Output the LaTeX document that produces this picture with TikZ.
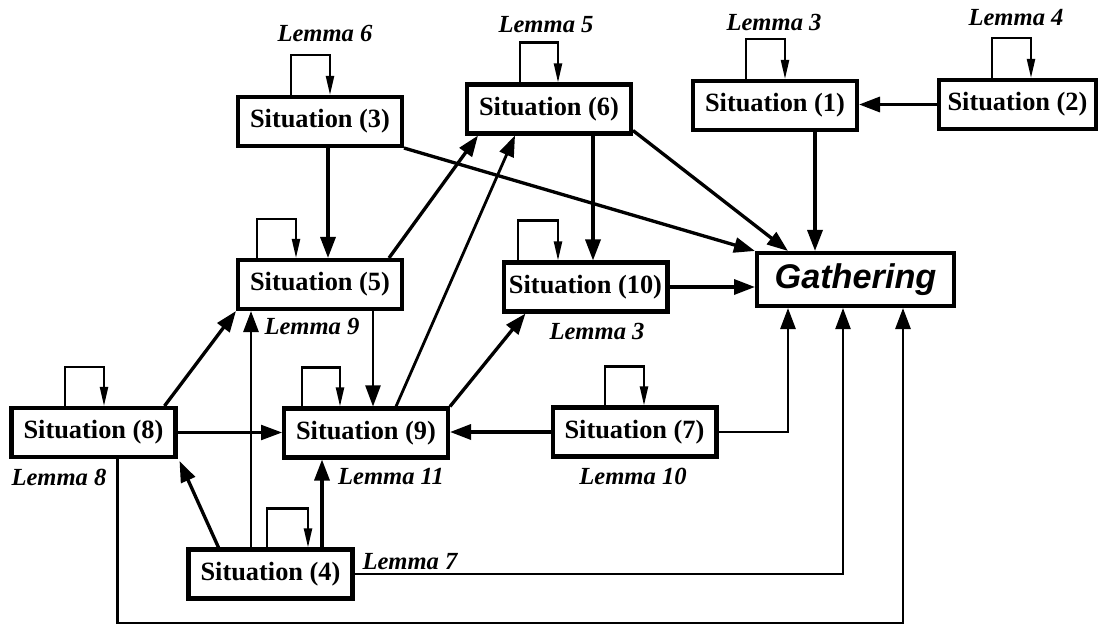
\documentclass[tikz,border=0pt]{standalone}
\usepackage{fontspec}
\setmainfont{Liberation Serif}
\newfontfamily\gathfont{Liberation Sans}
\usetikzlibrary{arrows.meta,calc}
\newcommand\selfloop[4]{%
  \draw[loopline] ($(#1.north)+(#2,0)$) -- ++(0,-#4) -| ($(#1.north)+(#3,0)$);}
\begin{document}
\begin{tikzpicture}[x=0.02cm,y=-0.02cm,
  sit/.style={draw,line width=2.3pt,minimum width=3.28cm,minimum height=0.98cm,
    inner sep=0pt,font=\fontsize{15}{17}\selectfont\bfseries},
  gathbox/.style={sit,minimum width=3.94cm,minimum height=1.06cm,
    font=\gathfont\fontsize{19.5}{22}\selectfont\bfseries\itshape},
  lem/.style={inner sep=0pt,font=\fontsize{14}{16}\selectfont\bfseries\itshape},
  edge/.style={line width=1.9pt,-{Triangle[length=0.42cm,width=0.3cm]}},
  medge/.style={edge,line width=1.6pt},
  tedge/.style={edge,line width=1.3pt},
  loopline/.style={line width=1.2pt,-{Triangle[length=0.38cm,width=0.16cm]}}]
\useasboundingbox (0,0) rectangle (1099,625);

% boxes
\node[sit] (s3) at (320,121.5) {Situation (3)};
\node[sit] (s6) at (549,109) {Situation (6)};
\node[sit] (s1) at (775,105.5) {Situation (1)};
\node[sit,minimum width=3.14cm] (s2) at (1017.5,104.5) {Situation (2)};
\node[sit] (s5) at (320,284.5) {Situation (5)};
\node[sit] (s10) at (585.5,287) {Situation (10)};
\node[gathbox] (gath) at (855.5,279.5) {Gathering};
\node[sit] (s8) at (93.5,432.5) {Situation (8)};
\node[sit] (s9) at (366,433) {Situation (9)};
\node[sit] (s7) at (634.5,432) {Situation (7)};
\node[sit] (s4) at (270.5,574) {Situation (4)};

% lemma labels
\node[lem] (l6) at (325,33) {Lemma 6};
\node[lem] (l5) at (546,25) {Lemma 5};
\node[lem] (l3a) at (774,22) {Lemma 3};
\node[lem] (l4) at (1016,18) {Lemma 4};
\node[lem] (l9) at (312,326) {Lemma 9};
\node[lem] (l3b) at (597,331) {Lemma 3};
\node[lem] (l8) at (59,477) {Lemma 8};
\node[lem] (l11) at (391,477) {Lemma 11};
\node[lem] (l10) at (633,476) {Lemma 10};
\node[lem] (l7) at (410,562) {Lemma 7};

% self loops
\selfloop{s3}{-29}{10}{40}
\selfloop{s6}{-29}{9}{40}
\selfloop{s1}{-29}{10}{40}
\selfloop{s2}{-25.5}{13.5}{40}
\selfloop{s5}{-63}{-24}{39}
\selfloop{s10}{-67.5}{-27.5}{40}
\selfloop{s8}{-28.5}{10.5}{39}
\selfloop{s9}{-64}{-26}{39}
\selfloop{s7}{-29.5}{9.5}{39}
\selfloop{s4}{-3.5}{37.5}{39}

% edges
\draw[edge] (s2.west) -- (s2.west -| s1.east);
\coordinate (a1) at ($(s1.south)+(40,0)$);
\draw[edge] (a1) -- (a1 |- gath.north);
\draw[edge] ($(s6.south east)+(0,-5)$) -- ($(gath.north west)+(33,0)$);
\draw[edge] (s3.south east) -- (gath.north west);
\coordinate (a2) at ($(s3.south)+(8,0)$);
\draw[edge] (a2) -- (a2 |- s5.north);
\coordinate (a3) at ($(s6.south)+(44,0)$);
\draw[edge] (a3) -- (a3 |- s10.north);
\draw[edge] (s10.east) -- (s10.east -| gath.west);
\draw[edge] ($(s5.north east)+(-15,0)$) -- ($(s6.south west)+(13,0)$);
\draw[medge] ($(s9.north)+(30,0)$) -- ($(s6.south west)+(50,0)$);
\draw[edge] (s9.north east) -- ($(s10.south west)+(24,0)$);
\coordinate (a4) at ($(s5.south)+(53,0)$);
\draw[tedge] (a4) -- (a4 |- s9.north);
\draw[edge] ($(s8.north east)+(-13,0)$) -- (s5.south west);
\draw[tedge] (s8.east) -- (s8.east -| s9.west);
\coordinate (a5) at ($(s4.north)+(-19.5,0)$);
\draw[medge] (a5) -- (a5 |- s5.south);
\draw[edge] ($(s4.north west)+(32,0)$) -- ($(s8.south east)+(2,2)$);
\coordinate (a6) at ($(s4.north)+(51.5,0)$);
\draw[edge] (a6) -- (a6 |- s9.south);
\draw[edge] (s7.west) -- (s7.west -| s9.east);
\draw[medge] (s7.east) -| ($(gath.south west)+(33,0)$);
\draw[tedge] (s4.east) -| ($(gath.south west)+(88,0)$);
\coordinate (a7) at ($(s8.south)+(24,0)$);
\coordinate (bot) at (0,623);
\draw[medge] (a7) -- (a7 |- bot) -| ($(gath.south west)+(148,0)$);
\end{tikzpicture}
\end{document}
